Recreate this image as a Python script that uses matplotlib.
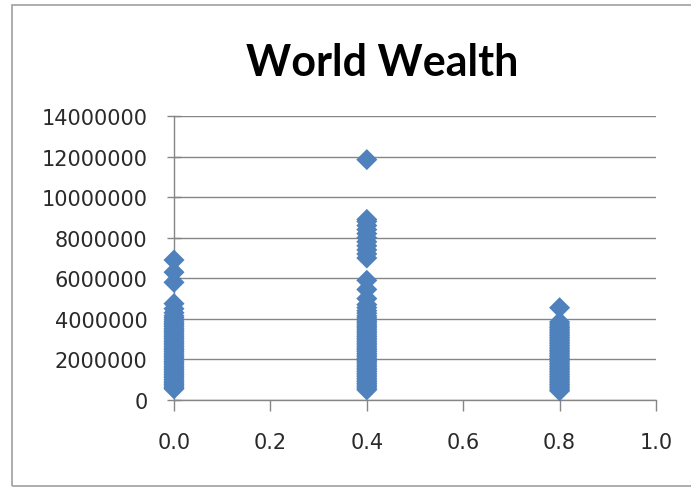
import matplotlib
matplotlib.use("Agg")
import matplotlib.pyplot as plt
from matplotlib.patches import Rectangle
from matplotlib.ticker import FuncFormatter

# Data (values in millions)
x_groups = [0.0, 0.4, 0.8]
wealth_00 = [0.55, 0.62, 0.70, 0.78, 0.85, 0.93, 1.01, 1.10, 1.18, 1.25, 1.33, 1.42,
             1.50, 1.58, 1.66, 1.75, 1.83, 1.90, 1.98, 2.07, 2.15, 2.22, 2.31, 2.40,
             2.48, 2.55, 2.63, 2.72, 2.80, 2.88, 2.96, 3.05, 3.12, 3.20, 3.29, 3.37,
             3.45, 3.53, 3.62, 3.70, 3.78, 3.86, 3.95, 4.05, 4.15, 4.30, 4.50, 4.75,
             5.80, 6.30, 6.90]
wealth_04 = [0.50, 0.58, 0.66, 0.74, 0.82, 0.90, 0.98, 1.06, 1.15, 1.23, 1.31, 1.40,
             1.48, 1.56, 1.64, 1.72, 1.81, 1.89, 1.97, 2.05, 2.14, 2.22, 2.30, 2.39,
             2.47, 2.55, 2.63, 2.72, 2.80, 2.88, 2.97, 3.05, 3.13, 3.21, 3.30, 3.38,
             3.46, 3.55, 3.63, 3.71, 3.80, 3.88, 3.96, 4.05, 4.15, 4.28, 4.40, 4.55,
             4.70, 5.00, 5.45, 5.90, 7.00, 7.20, 7.40, 7.60, 7.80, 8.00, 8.20, 8.40,
             8.60, 8.80, 8.90, 11.85]
wealth_08 = [0.45, 0.53, 0.61, 0.69, 0.77, 0.85, 0.93, 1.01, 1.09, 1.17, 1.25, 1.33,
             1.41, 1.49, 1.57, 1.65, 1.73, 1.81, 1.89, 1.97, 2.05, 2.13, 2.21, 2.29,
             2.37, 2.45, 2.53, 2.61, 2.69, 2.77, 2.85, 2.93, 3.01, 3.09, 3.17, 3.25,
             3.33, 3.41, 3.49, 3.57, 3.65, 3.75, 3.85, 4.55]
series = [wealth_00, wealth_04, wealth_08]
y_ticks = [0, 2000000, 4000000, 6000000, 8000000, 10000000, 12000000, 14000000]
x_ticks = [0.0, 0.2, 0.4, 0.6, 0.8, 1.0]
title = "World Wealth"

plt.rcParams["font.family"] = ["DejaVu Sans"]

W, H = 691, 489
fig = plt.figure(figsize=(W / 100, H / 100), dpi=100)
fig.patch.set_facecolor("white")

# outer chart border
fig.patches.append(Rectangle((12 / W, 1 - 487 / H), 1.2, (487 - 6) / H,
                             transform=fig.transFigure, fill=False,
                             edgecolor="#a0a0a0", linewidth=1.2))

ax = fig.add_axes([174 / W, 1 - 401 / H, (656 - 174) / W, (401 - 117) / H])
ax.set_facecolor("none")

for xv, vals in zip(x_groups, series):
    ax.scatter([xv] * len(vals), [v * 1e6 for v in vals], marker="D", s=115,
               color="#4F81BD", edgecolors="none", zorder=3, clip_on=False)

ax.set_xlim(0, 1.0)
ax.set_ylim(0, 14000000)
ax.set_xticks(x_ticks)
ax.set_yticks(y_ticks)
ax.xaxis.set_major_formatter(FuncFormatter(lambda v, p: f"{v:.1f}"))
ax.yaxis.set_major_formatter(FuncFormatter(lambda v, p: f"{int(round(v))}"))

ax.grid(axis="y", color="#868686", linewidth=1.0, zorder=0)
ax.set_axisbelow(True)
for s in ["top", "right"]:
    ax.spines[s].set_visible(False)
for s in ["left", "bottom"]:
    ax.spines[s].set_color("#868686")
    ax.spines[s].set_linewidth(1.0)

ax.tick_params(axis="y", direction="inout", length=10, width=1.0, color="#868686",
               labelsize=15, labelcolor="#2a2a2a", pad=14)
ax.tick_params(axis="x", direction="out", length=8, width=1.0, color="#868686",
               labelsize=15, labelcolor="#2a2a2a", pad=15)

fig.text(382 / W, 1 - 63 / H, title, ha="center", va="center",
         fontsize=31, fontweight="bold", family="Lato", color="black")

fig.savefig("out.png", dpi=100)
